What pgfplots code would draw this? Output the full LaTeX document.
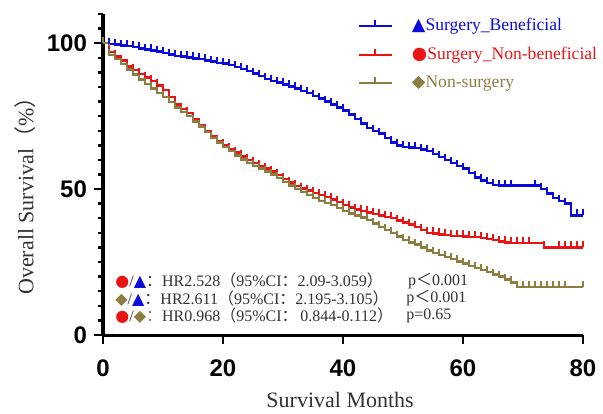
\documentclass[border=0pt]{standalone}
\usepackage{pgfplots}
\pgfplotsset{compat=1.18}
\usepackage{fontspec}
\setmainfont{Liberation Serif}
\newfontfamily\tickfont{Liberation Sans}
\newfontfamily\sym{DejaVu Sans}
\newfontfamily\cjk{Noto Sans CJK SC}
\definecolor{cblue}{RGB}{10,10,220}
\definecolor{cred}{RGB}{235,20,20}
\definecolor{colive}{RGB}{140,125,65}
\definecolor{txt}{RGB}{50,50,50}
\pgfdeclareplotmark{cens}{\pgfpathmoveto{\pgfpointorigin}\pgfpathlineto{\pgfpoint{0pt}{3pt}}\pgfusepathqstroke}
\begin{document}
\begin{tikzpicture}
\path[use as bounding box] (-51.5pt,-39pt) rectangle (250pt,167.5pt);
\begin{axis}[
  scale only axis, width=240pt, height=160.5pt,
  xmin=0, xmax=80, ymin=0, ymax=110,
  axis x line=bottom, axis y line=left,
  axis line style={-, line width=1.5pt},
  xtick={0,20,...,80}, ytick={0,50,100},
  minor ytick={5,10,...,110},
  tick align=outside,
  major tick length=4.5pt, minor tick length=2.5pt,
  every tick/.style={black, line width=1.2pt},
  /pgf/number format/assume math mode=true,
  tick label style={font=\tickfont\bfseries\fontsize{12}{12}\selectfont},
  xticklabel style={yshift=-4.5pt},
  xlabel={Survival Months},
  ylabel={Overall Survival{\cjk（}\%{\cjk）}},
  label style={font=\fontsize{11}{11}\selectfont, text=txt},
  xlabel style={at={(axis description cs:0.494,-0.2025)}, anchor=center},
  ylabel style={at={(axis description cs:-0.1625,0.45)}, anchor=center},
  clip=false,
  legend style={draw=none, fill=none, at={(axis description cs:0.53,1.0)}, anchor=north west,
    font=\fontsize{8.8}{8.8}\selectfont, row sep=2.6pt, inner sep=0pt},
  legend cell align=left,
  legend image code/.code={\draw[#1, line width=1pt] (0pt,0pt)--(16.5pt,0pt); \draw[#1,line width=1pt] (8.25pt,0pt)--(8.25pt,3pt); \path (24pt,0pt);},
]
\addplot[cblue, line width=1.2pt, const plot, mark=cens, mark options={solid}] coordinates {
(0,100)(1,99.8)(2,99.5)(3,99.2)(4,99)(5,98.6)(6,98.2)(7,97.8)(8,97.5)(9,97.1)(10,96.6)
(11,96.1)(12,95.7)(13,95.4)(14,95.1)(15,94.8)(16,94.5)(17,94.1)(18,93.7)(19,93.3)(20,93)
(21,92.5)(22,91.9)(23,91.2)(24,90.5)(25,89.6)(26,88.7)(27,87.8)(28,87.1)(29,86.5)(30,85.9)
(31,85.2)(32,84.5)(33,83.7)(34,82.9)(35,82)(36,81)(37,80)(38,79)(39,78)(40,77)
(41,75.5)(42,74)(43,72.5)(44,71)(45,70)(46,69)(47,67.5)(48,66)(49,65)(50,64.5)
(51,64.2)(52,64)(53,63.5)(54,63)(55,62)(56,61)(57,60)(58,59)(59,58)(60,57)
(61,55.5)(62,54)(63,53)(64,52)(65,51.5)(66,51.2)(67,51.2)(68,51.2)(72,51.2)(73,50)
(74,48.5)(75,47)(76,46)(77,45)(78,41)(79,41)(80,41)};
\addlegendentry{\textcolor{cblue}{{\sym ▲}Surgery\_Beneficial}}
\addplot[cred, line width=1.2pt, const plot, mark=cens, mark options={solid}] coordinates {
(0,100)(1,97)(2,95.5)(3,94)(4,92)(5,90.8)(6,89.5)(7,88.2)(8,87)(9,85.5)(10,84)
(11,81.5)(12,79)(13,77.5)(14,76)(15,74)(16,72)(17,70)(18,68)(19,66.5)(20,65)
(21,63.7)(22,62.5)(23,61.2)(24,60)(25,59)(26,58)(27,57)(28,56)(29,54.8)(30,53.5)
(31,52.2)(32,51)(33,50.2)(34,49.5)(35,48.7)(36,48)(37,47.2)(38,46.5)(39,45.5)(40,44.5)
(41,43.7)(42,43)(43,42.5)(44,42)(45,41.5)(46,41)(47,40.5)(48,40)(49,39.2)(50,38.5)
(51,37.8)(52,37)(53,36)(54,35)(55,34.8)(56,34.5)(57,34.2)(58,34)(59,33.9)(60,33.8)
(61,33.6)(62,33.5)(63,33.2)(64,33)(65,32.5)(66,32)(67,31.7)(68,31.5)(69,31.5)(70,31.5)
(71,31.5)(73.5,30)(76,30)(77,30)(78,30)(79,30)(80,30)};
\addlegendentry{\textcolor{cred}{{\sym ●}Surgery\_Non-beneficial}}
\addplot[colive, line width=1.2pt, const plot, mark=cens, mark options={solid}] coordinates {
(0,100)(1,96)(2,94.5)(3,92.8)(4,91)(5,89.2)(6,87.5)(7,86)(8,84.5)(9,83)(10,81.5)
(11,79.8)(12,78)(13,76.5)(14,75)(15,73.2)(16,71.5)(17,69.5)(18,67.5)(19,66)(20,64.5)
(21,63)(22,61.5)(23,60.2)(24,59)(25,58)(26,57)(27,56)(28,55)(29,53.7)(30,52.5)
(31,51.2)(32,50)(33,49)(34,48)(35,47)(36,46)(37,45.2)(38,44.5)(39,43.5)(40,42.5)
(41,41.7)(42,41)(43,40.2)(44,39.5)(45,38.2)(46,37)(47,36)(48,35)(49,33.7)(50,32.5)
(51,31.7)(52,31)(53,30)(54,29)(55,28.2)(56,27.5)(57,26.7)(58,26)(59,25.2)(60,24.5)
(61,23.7)(62,23)(63,22.2)(64,21.5)(65,20.7)(66,20)(67,19)(68,18)(69,16.5)(70,16.5)
(71,16.5)(72,16.5)(73,16.5)(74,16.5)(75,16.5)(76,16.5)(77,16.5)(80,16.5)};
\addlegendentry{\textcolor{colive}{{\sym ◆}Non-surgery}}
% hazard ratio annotations
\begin{scope}[every node/.style={font=\fontsize{8}{8}\selectfont, text=txt, inner sep=0pt, anchor=west}]
\node at (axis cs:2,18.6) {{\sym\textcolor{cred}{●}}/{\sym\textcolor{cblue}{▲}}{\cjk：}HR2.528{\cjk（}95\%CI{\cjk：}2.09-3.059{\cjk）}};
\node at (axis cs:2,12.6) {{\sym\textcolor{colive}{◆}}/{\sym\textcolor{cblue}{▲}}{\cjk：}HR2.611{\cjk（}95\%CI{\cjk：}2.195-3.105{\cjk）}};
\node at (axis cs:2,6.5) {{\sym\textcolor{cred}{●}}/{\sym\textcolor{colive}{◆}}\textcolor{colive}{\cjk：}HR0.968{\cjk（}95\%CI{\cjk：}\,0.844-0.112{\cjk）}};
\node at (axis cs:50.8,18.6) {p{\cjk ＜}0.001};
\node at (axis cs:50.5,12.6) {p{\cjk ＜}0.001};
\node at (axis cs:50.5,6.5) {p=0.65};
\end{scope}
\end{axis}
\end{tikzpicture}
\end{document}
